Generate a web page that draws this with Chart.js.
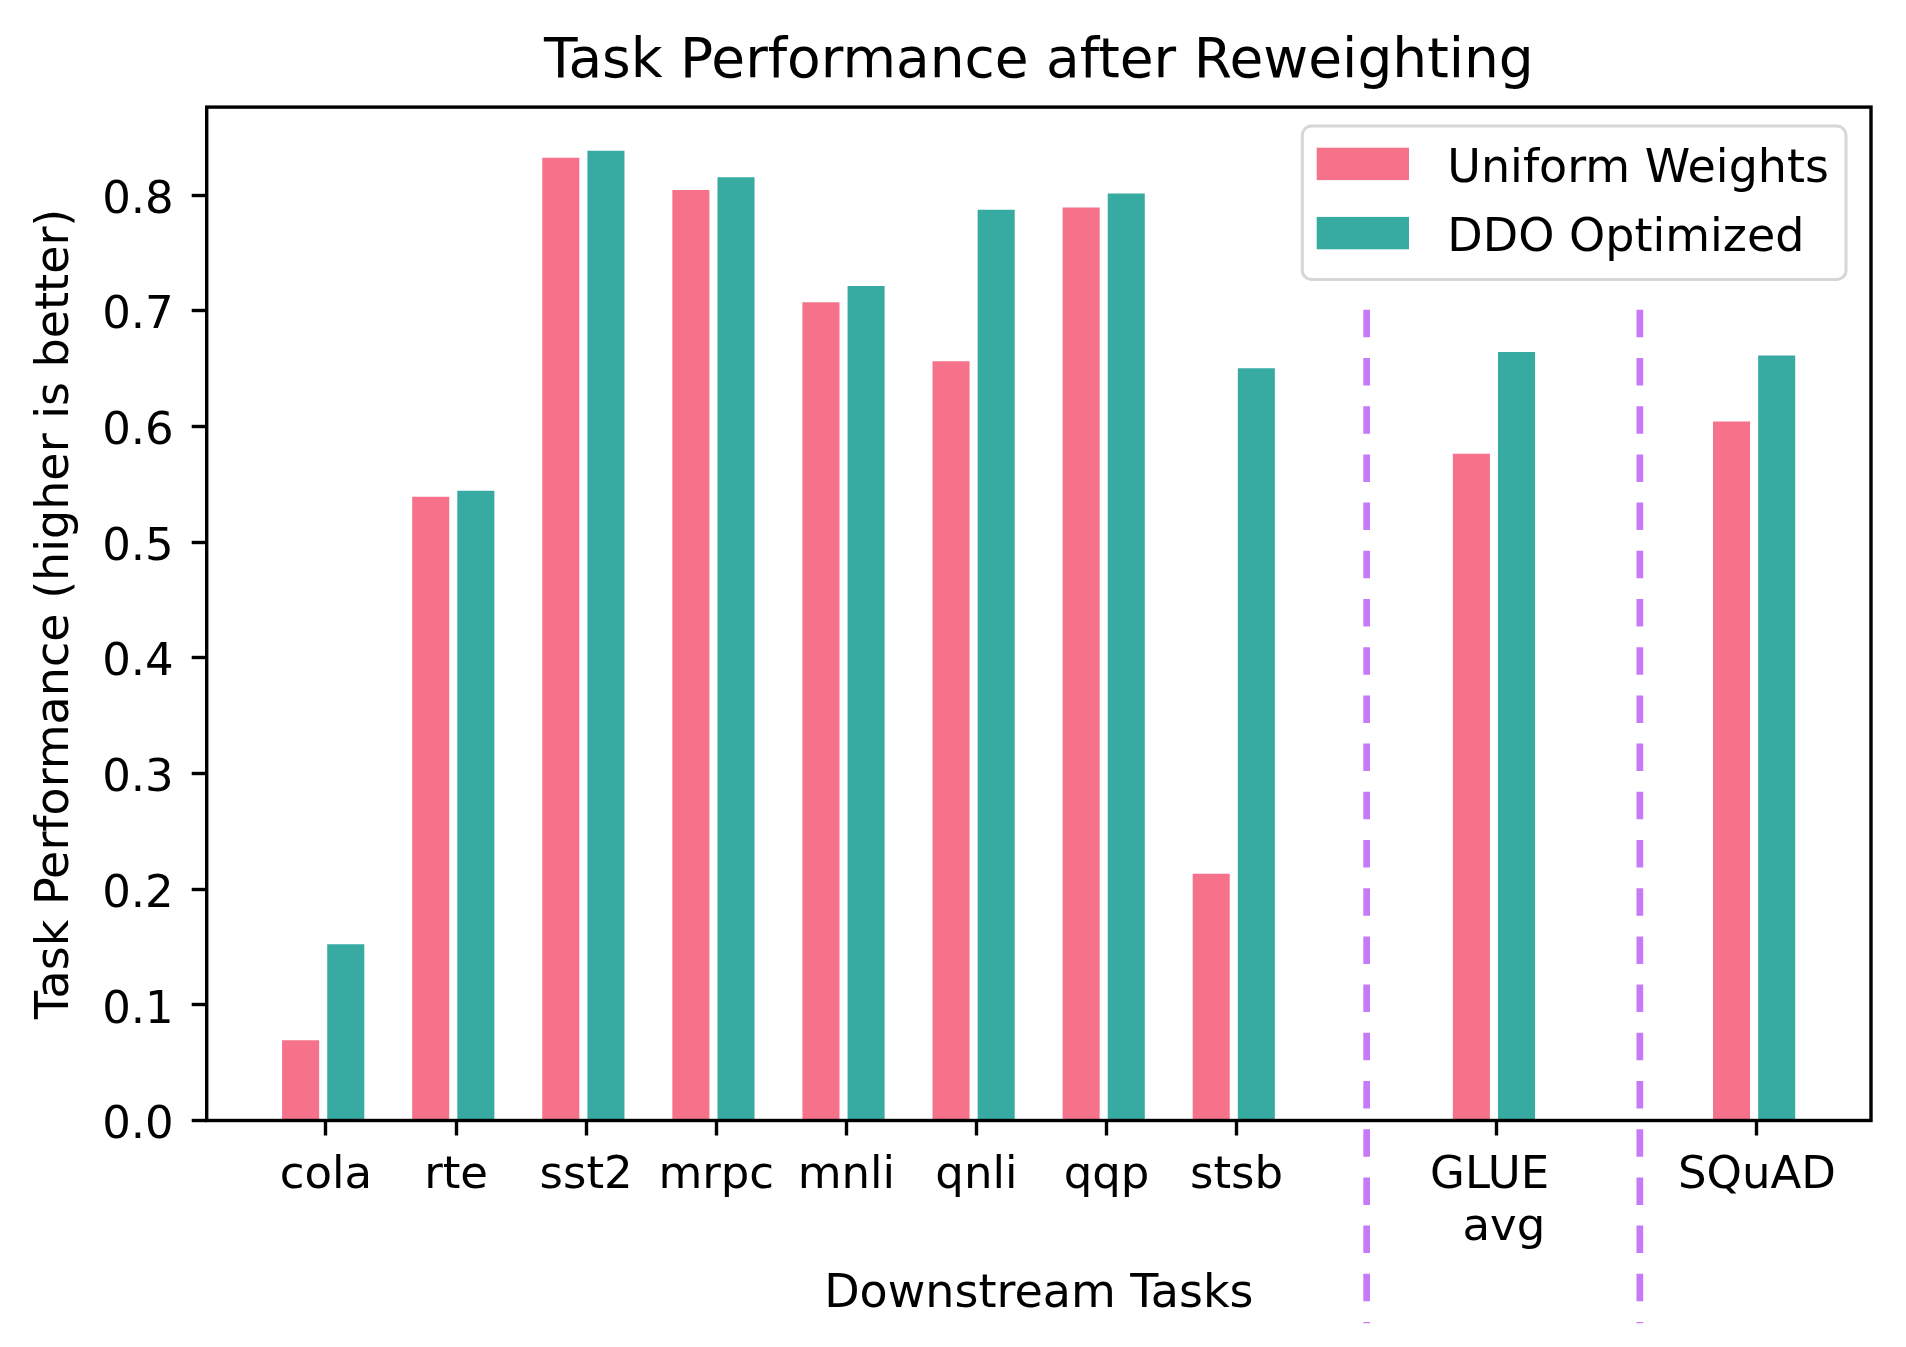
<!DOCTYPE html>
<html>
<head>
<meta charset="utf-8">
<script src="https://cdn.jsdelivr.net/npm/chart.js@4.4.1/dist/chart.umd.min.js"></script>
<style>
  html, body { margin: 0; padding: 0; background: #fff; }
  #caixa { width: 1906px; height: 1347px; }
</style>
</head>
<body>
<div id="caixa"><canvas id="grafico" width="1906" height="1347" style="width:1906px;height:1347px"></canvas></div>
<script>
// Dados
const tarefas = ["cola", "rte", "sst2", "mrpc", "mnli", "qnli", "qqp", "stsb", "GLUE \n avg", "SQuAD"];
const posicoes = [0, 1, 2, 3, 4, 5, 6, 7, 9, 11];
const uniforme = [0.069, 0.539, 0.832, 0.804, 0.707, 0.656, 0.789, 0.213, 0.576, 0.604];
const otimizado = [0.152, 0.544, 0.838, 0.815, 0.721, 0.787, 0.801, 0.650, 0.664, 0.661];
const divisorias = [8, 10.1];
const marcasY = [0, 0.1, 0.2, 0.3, 0.4, 0.5, 0.6, 0.7, 0.8];

const yMax = 0.876;
const deslocRosa = -0.195;
const deslocVerde = 0.152;

Chart.defaults.font.family = "'DejaVu Sans', sans-serif";
Chart.defaults.color = "#000";

//Moldura completa dos eixos (estilo matplotlib)
const moldura = {
    id: "moldura",
    afterDatasetsDraw(chart){
        const a = chart.chartArea;
        const ctx = chart.ctx;
        ctx.save();
        ctx.strokeStyle = "#000";
        ctx.lineWidth = 3.4;
        ctx.strokeRect(a.left, a.top, a.right - a.left, a.bottom - a.top);
        ctx.restore();
    }
};

//Legenda dentro da área do gráfico, canto superior direito
const legenda = {
    id: "legenda",
    afterDraw(chart){
        const ctx = chart.ctx;
        const a = chart.chartArea;
        const itens = chart.data.datasets.filter(d => d.type !== "line");
        ctx.save();
        ctx.font = "46px 'DejaVu Sans'";
        const larguraTexto = Math.max(...itens.map(d => ctx.measureText(d.label).width));
        const largura = 14.4 + 92.3 + 38.3 + larguraTexto + 17;
        const altura = 153.3;
        const direita = a.right - 25;
        const topo = a.top + 19;
        const esquerda = direita - largura;
        ctx.beginPath();
        ctx.roundRect(esquerda, topo, largura, altura, 9);
        ctx.fillStyle = "rgba(255,255,255,0.8)";
        ctx.fill();
        ctx.lineWidth = 3;
        ctx.strokeStyle = "#d6d6d6";
        ctx.stroke();
        itens.forEach((d, i) => {
            const cy = topo + 37.8 + i * 69.2;
            ctx.fillStyle = d.backgroundColor;
            ctx.fillRect(esquerda + 14.4, cy - 16.2, 92.3, 32.4);
            ctx.fillStyle = "#000";
            ctx.textAlign = "left";
            ctx.textBaseline = "alphabetic";
            ctx.fillText(d.label, esquerda + 145, cy + 18);
        });
        ctx.restore();
    }
};

const linhasDivisorias = divisorias.map(x => ({
    type: "line",
    label: "",
    data: [{x: x, y: yMax * 0.8}, {x: x, y: -yMax * 0.2}],
    borderColor: "#c77af5",
    borderWidth: 6.7,
    borderDash: [27.5, 20.7],
    borderCapStyle: "butt",
    pointRadius: 0,
    fill: false,
    clip: false,
    order: 0
}));

const desenho = new Chart("grafico", {
    type: "bar",
    data: {
        datasets: [
            {
                label: "Uniform Weights",
                data: posicoes.map((p, i) => ({x: p + deslocRosa, y: uniforme[i]})),
                backgroundColor: "#f6728a",
                barThickness: 36.4,
                grouped: false,
                order: 1
            },
            {
                label: "DDO Optimized",
                data: posicoes.map((p, i) => ({x: p + deslocVerde, y: otimizado[i]})),
                backgroundColor: "#37aba2",
                barThickness: 36.4,
                grouped: false,
                order: 1
            },
            ...linhasDivisorias
        ]
    },
    options: {
        responsive: false,
        devicePixelRatio: 1,
        animation: false,
        layout: { padding: { top: 0, right: 35, bottom: 0, left: 0 } },
        plugins: {
            legend: { display: false },
            tooltip: { enabled: false },
            title: {
                display: true,
                text: "Task Performance after Reweighting",
                fullSize: false,
                color: "#000",
                font: { size: 55, weight: "normal" },
                padding: { top: 29.5, bottom: 11.6 }
            }
        },
        scales: {
            x: {
                type: "linear",
                min: -0.917,
                max: 11.877,
                offset: false,
                afterBuildTicks(escala){
                    escala.ticks = posicoes.map(v => ({value: v}));
                },
                afterFit(escala){
                    escala.height = 226.5;
                },
                ticks: {
                    autoSkip: false,
                    maxRotation: 0,
                    minRotation: 0,
                    padding: 15,
                    color: "#000",
                    font: { size: 45, lineHeight: 1.156 },
                    callback: (valor, indice) => tarefas[indice].split("\n")
                },
                grid: {
                    offset: false,
                    drawOnChartArea: false,
                    drawTicks: true,
                    tickLength: 15,
                    tickWidth: 3.4,
                    tickColor: "#000"
                },
                border: { display: false },
                title: {
                    display: true,
                    text: "Downstream Tasks",
                    color: "#000",
                    font: { size: 46 },
                    padding: { top: 0, bottom: 24.6 }
                }
            },
            y: {
                type: "linear",
                min: 0,
                max: yMax,
                afterBuildTicks(escala){
                    escala.ticks = marcasY.map(v => ({value: v}));
                },
                afterFit(escala){
                    escala.width = 206.7;
                },
                ticks: {
                    padding: 18,
                    labelOffset: 6,
                    color: "#000",
                    font: { size: 45 },
                    callback: (valor) => valor.toFixed(1)
                },
                grid: {
                    drawOnChartArea: false,
                    drawTicks: true,
                    tickLength: 15,
                    tickWidth: 3.4,
                    tickColor: "#000"
                },
                border: { display: false },
                title: {
                    display: true,
                    text: "Task Performance (higher is better)",
                    color: "#000",
                    font: { size: 46 },
                    padding: { top: 28.9, bottom: 0 }
                }
            }
        }
    },
    plugins: [moldura, legenda]
});
</script>
</body>
</html>
